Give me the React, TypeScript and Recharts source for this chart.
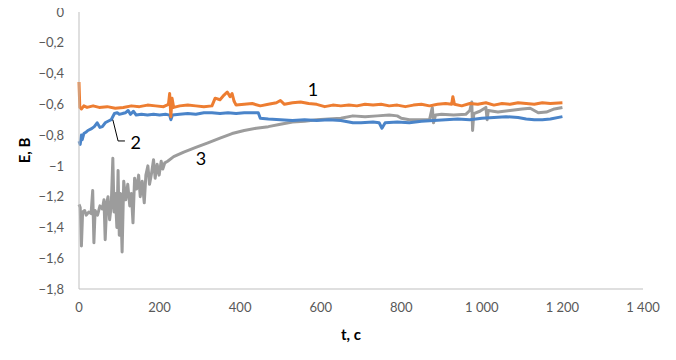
import { LineChart, Line, XAxis, YAxis, ReferenceDot, ReferenceLine } from 'recharts';

// curve 1 (orange)
const t1 = [0, 2, 6, 12, 20, 35, 50, 70, 90, 110, 130, 150, 170, 190, 210, 222, 225, 228, 231, 235, 250, 270, 290, 310, 330, 338, 350, 360, 368, 375, 380, 385, 390, 410, 430, 450, 470, 490, 500, 510, 530, 550, 570, 590, 610, 630, 650, 670, 690, 710, 730, 750, 770, 790, 810, 830, 850, 870, 890, 910, 925, 928, 932, 950, 970, 990, 1010, 1030, 1050, 1070, 1090, 1110, 1130, 1150, 1170, 1200];
const e1 = [-0.455, -0.62, -0.63, -0.61, -0.62, -0.61, -0.62, -0.615, -0.625, -0.62, -0.61, -0.615, -0.605, -0.61, -0.615, -0.6, -0.53, -0.68, -0.56, -0.62, -0.61, -0.605, -0.61, -0.615, -0.61, -0.56, -0.57, -0.54, -0.52, -0.55, -0.53, -0.58, -0.605, -0.6, -0.595, -0.61, -0.6, -0.59, -0.575, -0.6, -0.59, -0.585, -0.595, -0.6, -0.615, -0.605, -0.61, -0.605, -0.61, -0.6, -0.605, -0.6, -0.61, -0.605, -0.615, -0.605, -0.6, -0.61, -0.6, -0.595, -0.6, -0.55, -0.6, -0.61, -0.595, -0.6, -0.59, -0.605, -0.595, -0.6, -0.59, -0.595, -0.6, -0.59, -0.595, -0.59];

// curve 2 (blue)
const t2 = [0, 3, 6, 8, 12, 18, 22, 30, 38, 45, 52, 58, 65, 72, 80, 88, 95, 100, 108, 115, 122, 128, 135, 142, 155, 170, 185, 200, 215, 225, 228, 232, 250, 270, 290, 310, 330, 350, 370, 390, 410, 430, 445, 450, 470, 500, 530, 560, 590, 620, 650, 680, 700, 730, 745, 752, 760, 790, 820, 850, 880, 910, 940, 970, 1000, 1030, 1060, 1090, 1110, 1130, 1150, 1170, 1200];
const e2 = [-0.84, -0.86, -0.8, -0.83, -0.79, -0.78, -0.77, -0.76, -0.745, -0.72, -0.75, -0.745, -0.72, -0.71, -0.7, -0.66, -0.655, -0.665, -0.66, -0.655, -0.64, -0.665, -0.645, -0.67, -0.665, -0.67, -0.665, -0.67, -0.665, -0.67, -0.7, -0.67, -0.665, -0.66, -0.665, -0.655, -0.655, -0.66, -0.655, -0.66, -0.655, -0.655, -0.655, -0.69, -0.695, -0.7, -0.705, -0.7, -0.705, -0.7, -0.705, -0.72, -0.72, -0.715, -0.72, -0.755, -0.72, -0.715, -0.72, -0.71, -0.705, -0.7, -0.695, -0.7, -0.69, -0.685, -0.68, -0.685, -0.695, -0.7, -0.7, -0.695, -0.68];

// curve 3 (grey)
const t3 = [0, 3, 6, 9, 14, 18, 24, 30, 34, 37, 40, 46, 52, 58, 62, 65, 69, 72, 76, 80, 84, 87, 90, 94, 97, 100, 103, 107, 111, 116, 121, 126, 130, 134, 138, 143, 148, 152, 157, 162, 166, 171, 175, 180, 185, 189, 194, 199, 204, 208, 213, 220, 235, 260, 290, 320, 350, 380, 410, 440, 470, 500, 530, 560, 590, 620, 650, 680, 710, 740, 770, 790, 800, 820, 850, 870, 877, 880, 885, 900, 930, 960, 970, 975, 977, 980, 995, 1010, 1013, 1016, 1040, 1070, 1100, 1120, 1140, 1160, 1180, 1200];
const e3 = [-1.25, -1.27, -1.52, -1.3, -1.29, -1.32, -1.3, -1.31, -1.16, -1.5, -1.29, -1.32, -1.26, -1.28, -1.22, -1.48, -1.24, -1.2, -1.35, -1.26, -0.95, -1.3, -1.18, -1.4, -1.03, -1.45, -1.18, -1.56, -1.1, -1.22, -1.12, -1.26, -1.18, -1.37, -1.08, -1.15, -1.06, -1.2, -1.1, -1.24, -1.06, -1.0, -1.12, -1.05, -0.96, -1.08, -0.99, -1.06, -0.97, -1.02, -0.98, -0.97, -0.94, -0.91, -0.88, -0.85, -0.82, -0.79, -0.77, -0.755, -0.745, -0.73, -0.715, -0.71, -0.7, -0.695, -0.69, -0.675, -0.68, -0.675, -0.67, -0.675, -0.69, -0.7, -0.7, -0.7, -0.62, -0.72, -0.67, -0.665, -0.67, -0.665, -0.64, -0.585, -0.77, -0.66, -0.645, -0.62, -0.7, -0.64, -0.65, -0.64, -0.63, -0.625, -0.655, -0.65, -0.63, -0.62];

const xTicks = [0, 200, 400, 600, 800, 1000, 1200, 1400];
const yTicks = [0, -0.2, -0.4, -0.6, -0.8, -1, -1.2, -1.4, -1.6, -1.8];

const zip = (t: number[], e: number[]) => t.map((v, i) => ({ t: v, e: e[i] }));
const curve1 = zip(t1, e1);
const curve2 = zip(t2, e2);
const curve3 = zip(t3, e3);

const fmtX = (v: number) => (v >= 1000 ? `${Math.floor(v / 1000)}\u00a0${String(v % 1000).padStart(3, '0')}` : String(v));
const fmtY = (v: number) => (v === 0 ? '0' : '\u2212' + String(Math.abs(Math.round(v * 10) / 10)).replace('.', ','));

const tickStyle = { fill: '#595959', fontSize: 13, fontFamily: 'Lato' };
const axisColor = '#bfbfbf';
const numLabel = (v: string) => ({ value: v, position: 'center' as const, fill: '#000', fontSize: 18, fontFamily: 'Lato' });

export default function App() {
  return (
    <div style={{ margin: -8, width: 676, height: 360, background: '#fff' }}>
      <LineChart width={676} height={360} margin={{ top: 12, right: 33, left: 0, bottom: 0 }}>
        <XAxis
          type="number"
          dataKey="t"
          domain={[0, 1400]}
          ticks={xTicks}
          tickFormatter={fmtX}
          tick={tickStyle}
          tickLine={false}
          tickMargin={8}
          stroke={axisColor}
          height={71}
          allowDuplicatedCategory={false}
          label={{ value: 't, c', position: 'center', dx: -10, dy: 10, fill: '#000', fontSize: 15, fontWeight: 'bold', fontFamily: 'Lato' }}
        />
        <YAxis
          type="number"
          domain={[-1.8, 0]}
          ticks={yTicks}
          tickFormatter={fmtY}
          tick={tickStyle}
          tickLine={false}
          tickMargin={9}
          stroke={axisColor}
          width={79}
          label={{ value: 'E, B', angle: -90, position: 'center', dx: -15, fill: '#000', fontSize: 15, fontWeight: 'bold', fontFamily: 'Lato' }}
        />
        <Line data={curve3} dataKey="e" stroke="#9c9c9c" strokeWidth={3} strokeLinejoin="round" dot={false} isAnimationActive={false} />
        <Line data={curve2} dataKey="e" stroke="#4a84c9" strokeWidth={3} strokeLinejoin="round" dot={false} isAnimationActive={false} />
        <Line data={curve1} dataKey="e" stroke="#ed7d31" strokeWidth={3} strokeLinejoin="round" dot={false} isAnimationActive={false} />
        <ReferenceLine segment={[{ x: 84, y: -0.7 }, { x: 97, y: -0.838 }]} stroke="#000" strokeWidth={1} />
        <ReferenceLine segment={[{ x: 97, y: -0.838 }, { x: 114, y: -0.838 }]} stroke="#000" strokeWidth={1} />
        <ReferenceDot x={581} y={-0.507} r={0} stroke="none" fill="none" label={numLabel('1')} />
        <ReferenceDot x={141} y={-0.85} r={0} stroke="none" fill="none" label={numLabel('2')} />
        <ReferenceDot x={303} y={-0.95} r={0} stroke="none" fill="none" label={numLabel('3')} />
      </LineChart>
    </div>
  );
}
